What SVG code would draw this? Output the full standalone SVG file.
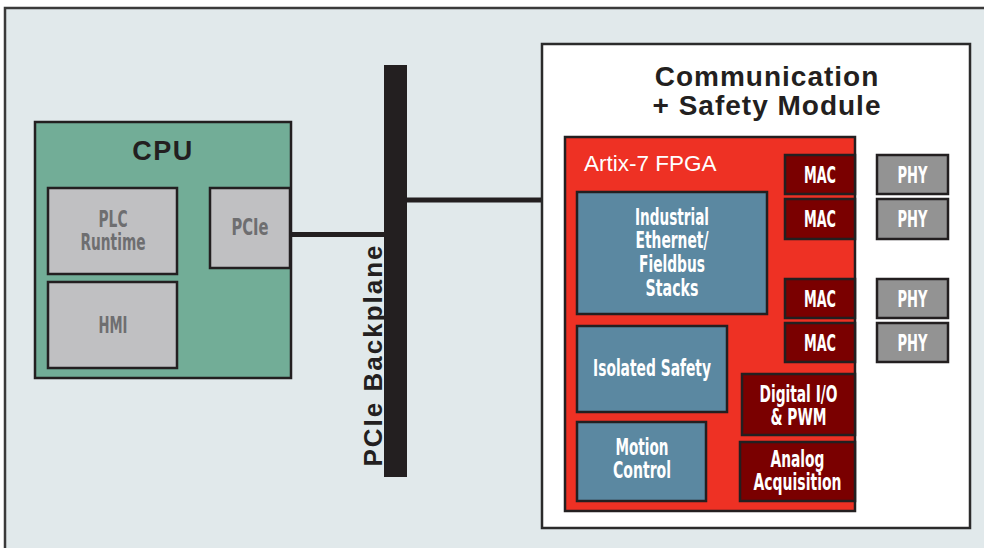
<svg xmlns="http://www.w3.org/2000/svg" width="984" height="548" viewBox="0 0 984 548">
<style>
.box{stroke:#231f20;stroke-width:2.5}
.cpu{fill:#72ad97}
.gray{fill:#c0c0c2}
.red{fill:#ee3124}
.blue{fill:#5b88a1}
.dred{fill:#7a0000}
.phy{fill:#939393}
.cond{font-family:"Liberation Sans Narrow","DejaVu Sans Condensed","Liberation Sans",sans-serif;font-weight:bold;font-size:23px;text-anchor:middle}
.gt{fill:#6e6e70}
.wt{fill:#ffffff}
.title{font-family:"Liberation Sans",Arial,sans-serif;font-weight:bold;fill:#231f20;text-anchor:middle}
.wire{stroke:#231f20;fill:none}
</style>
<rect x="0" y="0" width="984" height="548" fill="#ffffff"/>
<rect x="5" y="8" width="1000" height="570" fill="#e1e9eb" stroke="#3a3a3a" stroke-width="2.5"/>

<g id="connectors">
<line class="wire" x1="290" y1="234.5" x2="386" y2="234.5" stroke-width="5"/>
<line class="wire" x1="405" y1="200" x2="543" y2="200" stroke-width="5"/>
<line class="wire" x1="855" y1="174.5" x2="877" y2="174.5" stroke-width="4.5"/>
<line class="wire" x1="855" y1="219" x2="877" y2="219" stroke-width="4.5"/>
<line class="wire" x1="855" y1="298.5" x2="877" y2="298.5" stroke-width="4.5"/>
<line class="wire" x1="855" y1="342.5" x2="877" y2="342.5" stroke-width="4.5"/>
</g>

<g id="cpu">
<rect class="box cpu" x="35" y="122" width="256" height="256"/>
<text class="title" x="163" y="160" font-size="27" letter-spacing="1.5">CPU</text>
</g>
<g id="plc-runtime">
<rect class="box gray" x="48" y="188" width="129" height="86"/>
<text class="cond gt" x="113" y="227" textLength="29" lengthAdjust="spacingAndGlyphs">PLC</text>
<text class="cond gt" x="113" y="250" textLength="65" lengthAdjust="spacingAndGlyphs">Runtime</text>
</g>
<g id="hmi">
<rect class="box gray" x="48" y="282" width="129" height="86"/>
<text class="cond gt" x="113" y="333" textLength="29" lengthAdjust="spacingAndGlyphs">HMI</text>
</g>
<g id="pcie">
<rect class="box gray" x="210" y="188" width="80" height="80"/>
<text class="cond gt" x="250" y="235" textLength="37" lengthAdjust="spacingAndGlyphs">PCIe</text>
</g>

<g id="backplane">
<text class="title" x="0" y="0" font-size="26" letter-spacing="2" transform="translate(382,355) rotate(-90)">PCIe Backplane</text>
<rect x="384" y="65" width="23" height="412" fill="#231f20"/>
</g>

<g id="module">
<rect x="542" y="44" width="428" height="484" fill="#ffffff" stroke="#2b2b2b" stroke-width="2.5"/>
<text class="title" x="767" y="86" font-size="28" letter-spacing="1">Communication</text>
<text class="title" x="767" y="115" font-size="28" letter-spacing="1">+ Safety Module</text>
</g>

<g id="fpga">
<rect class="box red" x="565" y="137" width="290" height="374"/>
<text x="584" y="171" font-family="'Liberation Sans',Arial,sans-serif" font-size="22.5" fill="#ffffff">Artix-7 FPGA</text>
</g>

<g id="industrial-ethernet">
<rect class="box blue" x="577" y="192" width="190" height="122"/>
<text class="cond wt" x="672" y="225" textLength="74" lengthAdjust="spacingAndGlyphs">Industrial</text>
<text class="cond wt" x="672" y="248" textLength="73" lengthAdjust="spacingAndGlyphs">Ethernet/</text>
<text class="cond wt" x="672" y="272" textLength="66" lengthAdjust="spacingAndGlyphs">Fieldbus</text>
<text class="cond wt" x="672" y="296" textLength="53" lengthAdjust="spacingAndGlyphs">Stacks</text>
</g>
<g id="isolated-safety">
<rect class="box blue" x="577" y="326" width="150" height="86"/>
<text class="cond wt" x="652" y="376" textLength="118" lengthAdjust="spacingAndGlyphs">Isolated Safety</text>
</g>
<g id="motion-control">
<rect class="box blue" x="577" y="422" width="129" height="79"/>
<text class="cond wt" x="642" y="455" textLength="53" lengthAdjust="spacingAndGlyphs">Motion</text>
<text class="cond wt" x="642" y="478" textLength="58" lengthAdjust="spacingAndGlyphs">Control</text>
</g>

<g id="mac1">
<rect class="box dred" x="785" y="155" width="70" height="39"/>
<text class="cond wt" x="820" y="183" textLength="32" lengthAdjust="spacingAndGlyphs">MAC</text>
</g>
<g id="mac2">
<rect class="box dred" x="785" y="199" width="70" height="40"/>
<text class="cond wt" x="820" y="227" textLength="32" lengthAdjust="spacingAndGlyphs">MAC</text>
</g>
<g id="mac3">
<rect class="box dred" x="785" y="279" width="70" height="39"/>
<text class="cond wt" x="820" y="307" textLength="32" lengthAdjust="spacingAndGlyphs">MAC</text>
</g>
<g id="mac4">
<rect class="box dred" x="785" y="323" width="70" height="39"/>
<text class="cond wt" x="820" y="351" textLength="32" lengthAdjust="spacingAndGlyphs">MAC</text>
</g>

<g id="phy1">
<rect class="box phy" x="877" y="155" width="71" height="39"/>
<text class="cond wt" x="912.5" y="183" textLength="30" lengthAdjust="spacingAndGlyphs">PHY</text>
</g>
<g id="phy2">
<rect class="box phy" x="877" y="199" width="71" height="40"/>
<text class="cond wt" x="912.5" y="227" textLength="30" lengthAdjust="spacingAndGlyphs">PHY</text>
</g>
<g id="phy3">
<rect class="box phy" x="877" y="279" width="71" height="39"/>
<text class="cond wt" x="912.5" y="307" textLength="30" lengthAdjust="spacingAndGlyphs">PHY</text>
</g>
<g id="phy4">
<rect class="box phy" x="877" y="323" width="71" height="39"/>
<text class="cond wt" x="912.5" y="351" textLength="30" lengthAdjust="spacingAndGlyphs">PHY</text>
</g>

<g id="digital-io">
<rect class="box dred" x="742" y="374" width="113" height="61"/>
<text class="cond wt" x="798.5" y="402" textLength="78" lengthAdjust="spacingAndGlyphs">Digital I/O</text>
<text class="cond wt" x="798.5" y="425" textLength="56" lengthAdjust="spacingAndGlyphs">&amp; PWM</text>
</g>
<g id="analog-acquisition">
<rect class="box dred" x="740" y="442" width="115" height="59"/>
<text class="cond wt" x="797.5" y="467" textLength="54" lengthAdjust="spacingAndGlyphs">Analog</text>
<text class="cond wt" x="797.5" y="490" textLength="88" lengthAdjust="spacingAndGlyphs">Acquisition</text>
</g>
</svg>
